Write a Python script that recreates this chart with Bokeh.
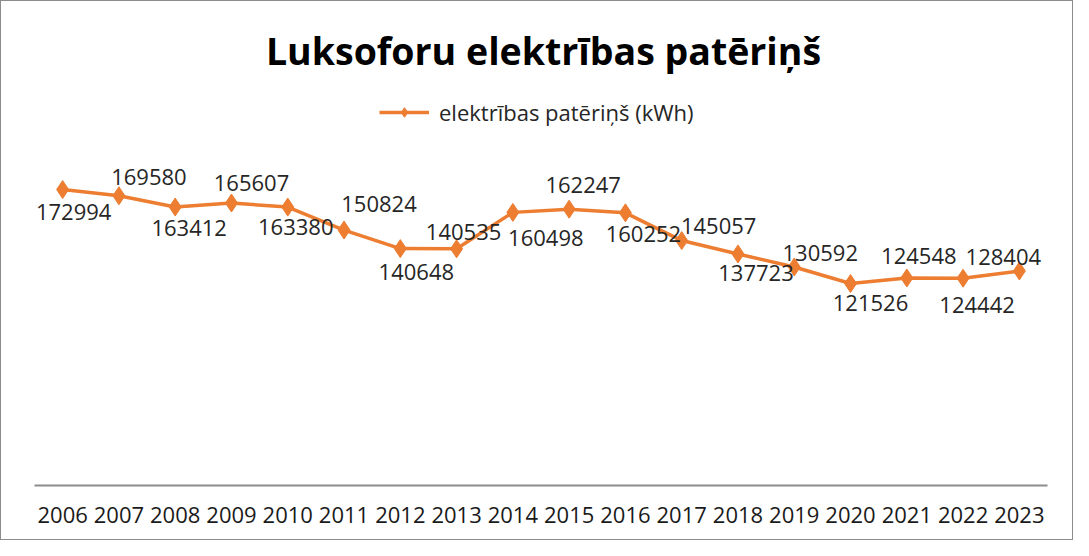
from bokeh.plotting import figure
from bokeh.models import ColumnDataSource, FactorRange, Range1d, Label, Legend, LegendItem
from bokeh.embed import file_html
from bokeh.resources import INLINE
from bokeh.core.properties import value

# ---- data ----
years = ["2006", "2007", "2008", "2009", "2010", "2011", "2012", "2013", "2014",
         "2015", "2016", "2017", "2018", "2019", "2020", "2021", "2022", "2023"]
consumption = [172994, 169580, 163412, 165607, 163380, 150824, 140648, 140535, 160498,
               162247, 160252, 145057, 137723, 130592, 121526, 124548, 124442, 128404]
title_text = "Luksoforu elektrības patēriņš"
series_name = "elektrības patēriņš (kWh)"

# ---- label placement (screen px: right / down from each point) ----
label_dx = [11, 30, 14, 20, 8, 35, 16, 7, 33, 14, 18, 37, 18, 26, 20, 12, 14, -16]
label_dy = [22, -19, 21, -20, 20, -26, 23, -17, 26, -24, 21, -15, 19, -14, 19, -22, 27, -14]

ORANGE = "#ED7D31"
TEXT = "#262626"

src = ColumnDataSource(dict(
    year=years,
    val=consumption,
    lab=[str(v) for v in consumption],
    dx=label_dx,
    dy=label_dy,
))

p = figure(
    width=1073, height=540,
    x_range=FactorRange(factors=years, range_padding=0),
    y_range=Range1d(10900, 276000),
    output_backend="svg", toolbar_location=None, title=None,
    min_border_left=33, min_border_right=27, min_border_top=0, min_border_bottom=56,
    styles={"border": "1px solid #8c8c8c"},
)
p.outline_line_color = None
p.background_fill_color = "white"
p.border_fill_color = "white"
p.xgrid.grid_line_color = None
p.ygrid.grid_line_color = None
p.yaxis.visible = False

ax = p.xaxis[0]
ax.axis_line_color = "#8c8c8c"
ax.axis_line_width = 2
ax.major_tick_line_color = None
ax.minor_tick_line_color = None
ax.major_tick_in = 0
ax.major_tick_out = 0
ax.major_label_standoff = 21
ax.major_label_text_font = "Open Sans"
ax.major_label_text_font_size = "22px"
ax.major_label_text_color = "#1a1a1a"

line_r = p.line("year", "val", source=src, line_color=ORANGE, line_width=3.5)
mark_r = p.scatter("year", "val", source=src, marker="diamond", size=18,
                   fill_color=ORANGE, line_color=ORANGE)

p.text("year", "val", text="lab", source=src, x_offset="dx", y_offset="dy",
       text_align="center", text_baseline="middle",
       text_font=value("Open Sans"), text_font_size="22px", text_color=TEXT)

p.add_layout(Label(x=509, y=435, x_units="screen", y_units="screen", text=title_text,
                   text_align="center", text_baseline="alphabetic",
                   text_font="Open Sans", text_font_style="bold",
                   text_font_size="37.5px", text_color="#000000"))

legend = Legend(items=[LegendItem(label=series_name, renderers=[line_r, mark_r])],
                location=(345, 358), orientation="horizontal",
                glyph_width=50, glyph_height=24, label_height=24, label_standoff=10,
                padding=0, margin=0, spacing=0,
                border_line_color=None, background_fill_alpha=0,
                label_text_font="Open Sans", label_text_font_size="22px",
                label_text_color=TEXT)
p.add_layout(legend, "center")

open("out.html", "w").write(file_html(p, INLINE))
